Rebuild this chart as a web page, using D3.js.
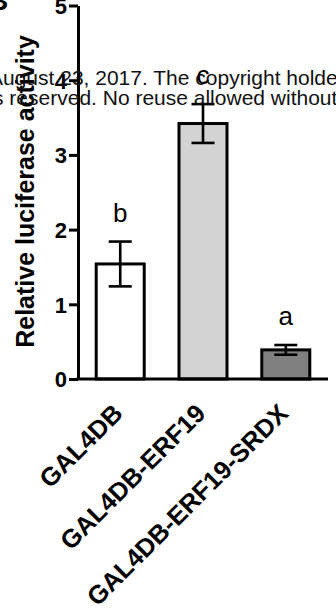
<!DOCTYPE html>
<html>
<head>
<meta charset="utf-8">
<script src="https://cdn.jsdelivr.net/npm/d3@7"></script>
<style>
  html, body { margin: 0; padding: 0; background: #fff; overflow: hidden; }
  svg { display: block; }
</style>
</head>
<body>
<div id="chart"></div>
<script>
const categories = ["GAL4DB", "GAL4DB-ERF19", "GAL4DB-ERF19-SRDX"];
const means = [1.54, 3.42, 0.39];
const errors = [0.30, 0.26, 0.065];
const letters = ["b", "c", "a"];
const barColors = ["#ffffff", "#d3d3d3", "#808080"];
const yTicks = [0, 1, 2, 3, 4, 5];
const watermarkLines = [
  "August 23, 2017. The copyright holder for this preprint",
  "All rights reserved. No reuse allowed without permission."
];

const width = 336;
const height = 613;
const font = "'Liberation Sans', Arial, Helvetica, sans-serif";

const svg = d3.select("#chart").append("svg")
  .attr("width", width)
  .attr("height", height)
  .style("font-family", font);

const x = d3.scaleBand()
  .domain(categories)
  .range([78, 328])
  .paddingInner(0.42)
  .paddingOuter(0.22);

const y = d3.scaleLinear()
  .domain([0, 5])
  .range([379, 5.5]);

// panel letter (cut off at the edge)
svg.append("text")
  .attr("x", -12)
  .attr("y", 10)
  .style("font-size", "28px")
  .style("font-weight", "bold")
  .text("B");

// bars
svg.append("g")
  .selectAll("rect")
  .data(categories)
  .join("rect")
  .attr("x", d => x(d))
  .attr("y", (d, i) => y(means[i]))
  .attr("width", x.bandwidth())
  .attr("height", (d, i) => y(0) - y(means[i]))
  .attr("fill", (d, i) => barColors[i])
  .attr("stroke", "#000")
  .attr("stroke-width", 3);

// error bars
const capW = 23;
const err = svg.append("g")
  .attr("stroke", "#000")
  .attr("stroke-width", 2.6);

categories.forEach((c, i) => {
  const cx = x(c) + x.bandwidth() / 2;
  const top = y(means[i] + errors[i]);
  const bot = y(means[i] - errors[i]);
  err.append("line").attr("x1", cx).attr("x2", cx).attr("y1", top).attr("y2", bot);
  err.append("line").attr("x1", cx - capW / 2).attr("x2", cx + capW / 2).attr("y1", top).attr("y2", top);
  err.append("line").attr("x1", cx - capW / 2).attr("x2", cx + capW / 2).attr("y1", bot).attr("y2", bot);
});

// significance letters
svg.append("g")
  .selectAll("text")
  .data(categories)
  .join("text")
  .attr("x", d => x(d) + x.bandwidth() / 2)
  .attr("y", (d, i) => y(means[i] + errors[i]) - 20)
  .attr("text-anchor", "middle")
  .style("font-size", "26px")
  .text((d, i) => letters[i]);

// y axis
const yAxis = svg.append("g")
  .attr("transform", "translate(78,0)")
  .call(d3.axisLeft(y)
    .tickValues(yTicks)
    .tickFormat(d3.format("d"))
    .tickSize(9)
    .tickSizeOuter(0)
    .tickPadding(2));

yAxis.select(".domain").attr("stroke-width", 3);
yAxis.selectAll(".tick line").attr("stroke-width", 3);
yAxis.selectAll("text")
  .attr("dy", "0.36em")
  .style("font-family", font)
  .style("font-size", "22px")
  .style("font-weight", "bold")
  .style("fill", "#000");

// x axis line
svg.append("line")
  .attr("x1", x.range()[0] - 1.5)
  .attr("x2", x.range()[1])
  .attr("y1", y(0))
  .attr("y2", y(0))
  .attr("stroke", "#000")
  .attr("stroke-width", 3);

// x labels, rotated
svg.append("g")
  .selectAll("text")
  .data(categories)
  .join("text")
  .attr("transform", d => `translate(${x(d) + x.bandwidth() / 2 + 4},415) rotate(-45)`)
  .attr("text-anchor", "end")
  .style("font-size", "25.5px")
  .style("font-weight", "bold")
  .text(d => d);

// y label
svg.append("text")
  .attr("transform", "translate(34,191.5) rotate(-90)")
  .attr("text-anchor", "middle")
  .style("font-size", "25px")
  .style("font-weight", "bold")
  .text("Relative luciferase activity");

// preprint watermark bleeding over the figure
svg.append("g")
  .selectAll("text")
  .data(watermarkLines)
  .join("text")
  .attr("x", (d, i) => i === 0 ? -11 : -77)
  .attr("y", (d, i) => 85 + i * 19.5)
  .style("font-size", "21px")
  .style("fill", "#111")
  .text(d => d);
</script>
</body>
</html>
